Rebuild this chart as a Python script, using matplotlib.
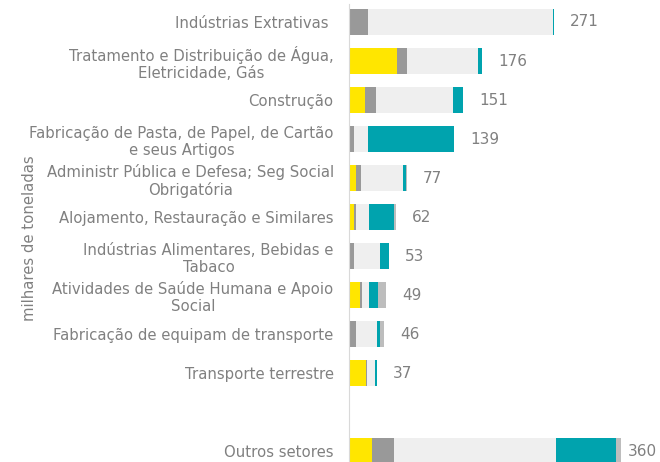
import numpy as np
import matplotlib
matplotlib.use('Agg')
import matplotlib.pyplot as plt

plt.rcParams['font.family'] = ['DejaVu Sans']

# sectors, top to bottom ('' is the empty gap row)
sectors = ['Indústrias Extrativas ',
           'Tratamento e Distribuição de Água,\nEletricidade, Gás',
           'Construção',
           'Fabricação de Pasta, de Papel, de Cartão\ne seus Artigos',
           'Administr Pública e Defesa; Seg Social\nObrigatória',
           'Alojamento, Restauração e Similares',
           'Indústrias Alimentares, Bebidas e\nTabaco',
           'Atividades de Saúde Humana e Apoio\nSocial',
           'Fabricação de equipam de transporte',
           'Transporte terrestre',
           '',
           'Outros setores']

# stacked components (milhares de toneladas)
seg_yellow = [0, 63, 21, 0, 9, 6, 0, 15, 0, 22, 0, 31]
seg_dgray = [25, 14, 15, 7, 7, 3, 6, 2, 9, 2, 0, 29]
seg_lgray = [245, 94, 101, 18, 56, 18, 35, 10, 28, 10, 0, 214]
seg_teal = [1, 5, 14, 114, 4, 33, 12, 12, 4, 3, 0, 80]
seg_mgray = [0, 0, 0, 0, 1, 2, 0, 10, 5, 0, 0, 6]
totals = ['271', '176', '151', '139', '77', '62', '53', '49', '46', '37', '', '360']

colors = ['#FFE600', '#999999', '#EFEFEF', '#00A3AE', '#BDBDBD']
txt = '#808080'

fig = plt.figure(figsize=(6.6, 4.62), dpi=100)
ax = fig.add_axes([349 / 660, 0, 306 / 660, 1])

y = np.arange(len(sectors))
left = np.zeros(len(sectors))
for vals, c in zip([seg_yellow, seg_dgray, seg_lgray, seg_teal, seg_mgray], colors):
    ax.barh(y, vals, left=left, height=0.67, color=c, linewidth=0)
    left += np.array(vals)

for i, t in enumerate(totals):
    if not t:
        continue
    off = 16 if i < len(totals) - 1 else 7
    ax.annotate(t, (left[i], y[i]), xytext=(off * 0.72, 0), textcoords='offset points',
                va='center', ha='left', fontsize=11, color=txt)

ax.set_xlim(0, 405)
ax.set_ylim(11.28, -0.564)
ax.set_yticks(y)
ax.set_yticklabels(sectors, fontsize=10.7, color=txt, ha='right', multialignment='center',
                   linespacing=1.2)
ax.tick_params(axis='y', length=0, pad=11)
ax.set_xticks([])
for s in ['top', 'right', 'bottom']:
    ax.spines[s].set_visible(False)
ax.spines['left'].set_color('#D9D9D9')
ax.spines['left'].set_bounds(-0.45, 11.28)

fig.text(30 / 660, 0.485, 'milhares de toneladas', rotation=90, ha='center', va='center',
         fontsize=10.7, color=txt)

fig.savefig('out.png', dpi=100)
